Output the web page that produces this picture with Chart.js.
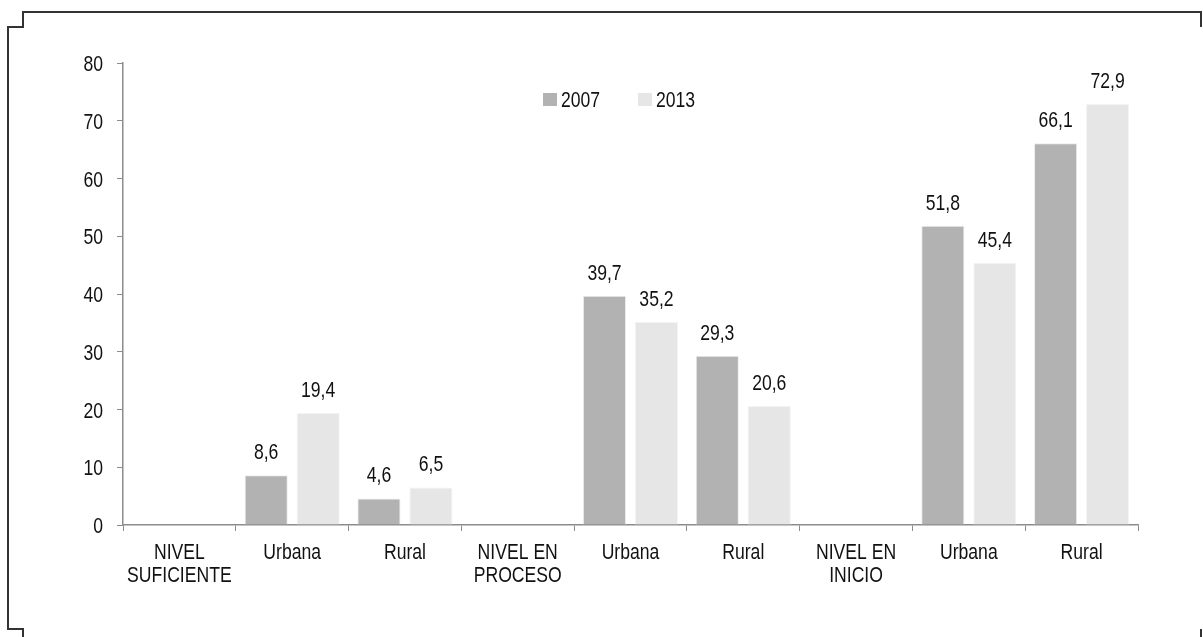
<!DOCTYPE html>
<html>
<head>
<meta charset="utf-8">
<script src="https://cdn.jsdelivr.net/npm/chart.js@4/dist/chart.umd.min.js"></script>
<style>
  html, body { margin: 0; padding: 0; background: #fff; }
  .chart-container { width: 1203px; height: 637px; position: relative; }
</style>
</head>
<body>
<div class="chart-container">
    <canvas id="nivelChart"></canvas>
</div>

<script>
    // categories and values
    const categories = [
        ['NIVEL', 'SUFICIENTE'], 'Urbana', 'Rural',
        ['NIVEL EN', 'PROCESO'], 'Urbana', 'Rural',
        ['NIVEL EN', 'INICIO'], 'Urbana', 'Rural'
    ];
    const values2007 = [null, 8.6, 4.6, null, 39.7, 29.3, null, 51.8, 66.1];
    const values2013 = [null, 19.4, 6.5, null, 35.2, 20.6, null, 45.4, 72.9];
    const yTicks = [0, 10, 20, 30, 40, 50, 60, 70, 80];

    const FONT = '22px "Liberation Sans", Arial, sans-serif';
    const NARROW = 0.8;   // the original uses a narrow face, squeeze the text
    const axisGray = '#8c8c8c';

    function narrowText(c, text, x, y, align) {
        c.save();
        c.translate(x, y);
        c.scale(NARROW, 1);
        c.textAlign = align;
        c.fillText(text, 0, 0);
        c.restore();
    }

    // outer frame drawn around the picture
    const framePlugin = {
        id: 'frame',
        afterDraw(chart) {
            const c = chart.ctx;
            c.save();
            c.strokeStyle = '#333';
            c.lineWidth = 2;
            c.beginPath();
            c.moveTo(1201, 27);
            c.lineTo(1201, 12);
            c.lineTo(23, 12);
            c.lineTo(23, 27);
            c.lineTo(8, 27);
            c.lineTo(8, 629);
            c.lineTo(23, 629);
            c.lineTo(23, 637);
            c.stroke();
            c.beginPath();
            c.moveTo(1201, 629);
            c.lineTo(1201, 637);
            c.stroke();
            c.restore();
        }
    };

    // tick labels, value labels and legend, all in the narrow style
    const textPlugin = {
        id: 'texts',
        afterDraw(chart) {
            const c = chart.ctx;
            c.save();
            c.font = FONT;
            c.fillStyle = '#111';
            c.textBaseline = 'alphabetic';

            const ys = chart.scales.y;
            ys.ticks.forEach(t => {
                narrowText(c, String(t.value), ys.right - 20, ys.getPixelForValue(t.value) + 8, 'right');
            });

            const xs = chart.scales.x;
            xs.ticks.forEach((t, i) => {
                const lab = chart.data.labels[i];
                const lines = Array.isArray(lab) ? lab : [lab];
                const x = xs.getPixelForTick(i);
                lines.forEach((ln, k) => narrowText(c, ln, x, xs.top + 34 + k * 23, 'center'));
            });

            chart.data.datasets.forEach((ds, i) => {
                chart.getDatasetMeta(i).data.forEach((bar, j) => {
                    const v = ds.data[j];
                    if (v === null) return;
                    narrowText(c, v.toFixed(1).replace('.', ','), bar.x, bar.y - 16, 'center');
                });
            });

            // legend inside the plot area
            let x = 543;
            chart.data.datasets.forEach(ds => {
                c.fillStyle = ds.backgroundColor;
                c.fillRect(x, 93, 14, 13);
                c.fillStyle = '#111';
                narrowText(c, ds.label, x + 18, 107, 'left');
                x += 95;
            });
            c.restore();
        }
    };

    const ctx = document.getElementById('nivelChart').getContext('2d');
    const chart = new Chart(ctx, {
        type: 'bar',
        data: {
            labels: categories,
            datasets: [{
                label: '2007',
                data: values2007,
                backgroundColor: '#b2b2b2',
                borderColor: '#ececec',
                borderWidth: 1,
                categoryPercentage: 0.922,
                barPercentage: 0.83
            }, {
                label: '2013',
                data: values2013,
                backgroundColor: '#e6e6e6',
                borderColor: '#f4f4f4',
                borderWidth: 1,
                categoryPercentage: 0.922,
                barPercentage: 0.83
            }]
        },
        options: {
            responsive: true,
            maintainAspectRatio: false,
            animation: false,
            layout: { padding: { top: 63, right: 65, left: 0, bottom: 0 } },
            plugins: {
                legend: { display: false },
                tooltip: { enabled: false }
            },
            scales: {
                x: {
                    grid: {
                        offset: true,
                        drawOnChartArea: false,
                        tickLength: 6,
                        color: axisGray
                    },
                    border: { color: axisGray, width: 1.5 },
                    ticks: { display: false },
                    afterFit(scale) { scale.height = 112; }
                },
                y: {
                    min: 0,
                    max: 80,
                    afterBuildTicks(scale) {
                        scale.ticks = yTicks.map(v => ({ value: v }));
                    },
                    grid: {
                        drawOnChartArea: false,
                        tickLength: 6,
                        color: axisGray
                    },
                    border: { color: axisGray, width: 1.5 },
                    ticks: { display: false },
                    afterFit(scale) { scale.width = 123; }
                }
            }
        },
        plugins: [framePlugin, textPlugin]
    });
</script>
</body>
</html>
